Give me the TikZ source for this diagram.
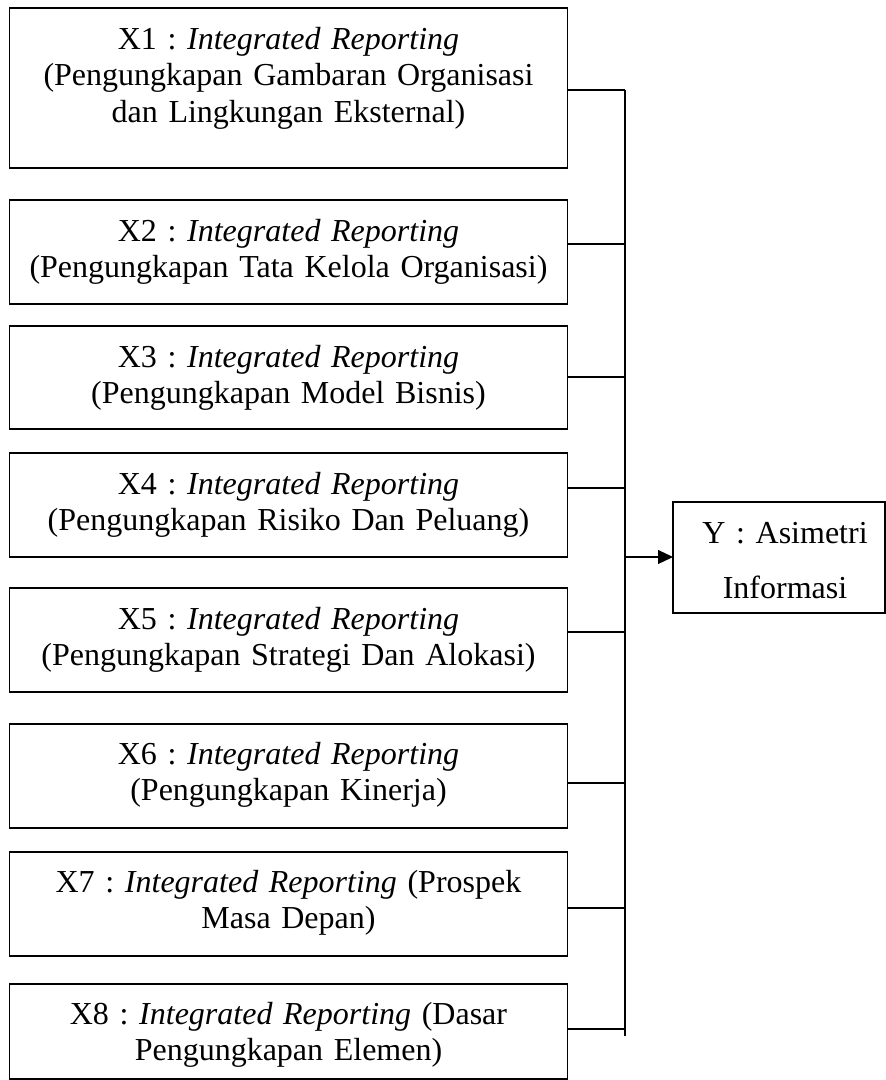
\documentclass[tikz,border=0pt]{standalone}
\usepackage{fontspec}
\setmainfont{Liberation Serif}
\usetikzlibrary{arrows.meta}
\frenchspacing
\begin{document}
\begin{tikzpicture}[x=1pt,y=-1pt,
  box/.style={draw=black, line width=1.2pt, inner sep=0pt, outer sep=0pt, anchor=north west, minimum width=558pt},
  lbl/.style={text width=550pt, align=center, inner sep=0pt, anchor=base, font=\frenchspacing\fontsize{32}{36.5}\selectfont},
  conn/.style={draw=black, line width=1.2pt}]
\useasboundingbox (0,0) rectangle (886,1080);

\node[box, minimum height=160pt] (x1) at (9.5,8) {};
\node[box, minimum height=104pt] (x2) at (9.5,200) {};
\node[box, minimum height=103pt] (x3) at (9.5,326) {};
\node[box, minimum height=104pt] (x4) at (9.5,453) {};
\node[box, minimum height=104pt] (x5) at (9.5,588) {};
\node[box, minimum height=104pt] (x6) at (9.5,724) {};
\node[box, minimum height=104pt] (x7) at (9.5,852) {};
\node[box, minimum height=95pt] (x8) at (9.5,984) {};
\node[box, minimum width=212pt, minimum height=111pt] (y) at (673,502) {};

\node[lbl] (x1t) at (288.5,49) {X1 : \textit{Integrated Reporting}\\(Pengungkapan Gambaran Organisasi\\dan Lingkungan Eksternal)};
\node[lbl] (x2t) at (288.5,241) {X2 : \textit{Integrated Reporting}\\(Pengungkapan Tata Kelola Organisasi)};
\node[lbl] (x3t) at (288.5,367) {X3 : \textit{Integrated Reporting}\\(Pengungkapan Model Bisnis)};
\node[lbl] (x4t) at (288.5,494) {X4 : \textit{Integrated Reporting}\\(Pengungkapan Risiko Dan Peluang)};
\node[lbl] (x5t) at (288.5,629) {X5 : \textit{Integrated Reporting}\\(Pengungkapan Strategi Dan Alokasi)};
\node[lbl] (x6t) at (288.5,764) {X6 : \textit{Integrated Reporting}\\(Pengungkapan Kinerja)};
\node[lbl] (x7t) at (288.5,892) {X7 : \textit{Integrated Reporting} (Prospek\\Masa Depan)};
\node[lbl] (x8t) at (288.5,1024) {X8 : \textit{Integrated Reporting} (Dasar\\Pengungkapan Elemen)};
\node[lbl, text width=200pt, font=\frenchspacing\fontsize{32}{55}\selectfont] (yt) at (785,543) {Y : Asimetri\\Informasi};

\coordinate (c1) at (625,90);
\coordinate (c2) at (625,244);
\coordinate (c3) at (625,377);
\coordinate (c4) at (625,488);
\coordinate (c5) at (625,632);
\coordinate (c6) at (625,783);
\coordinate (c7) at (625,908);
\coordinate (c8) at (625,1029);
\coordinate (bot) at (625,1036);
\coordinate (a) at (625,557);

\draw[conn] (c1) -- (bot);
\draw[conn] (x1.east |- c1) -- (c1);
\draw[conn] (x2.east |- c2) -- (c2);
\draw[conn] (x3.east |- c3) -- (c3);
\draw[conn] (x4.east |- c4) -- (c4);
\draw[conn] (x5.east |- c5) -- (c5);
\draw[conn] (x6.east |- c6) -- (c6);
\draw[conn] (x7.east |- c7) -- (c7);
\draw[conn] (x8.east |- c8) -- (c8);
\draw[conn, -{Triangle[length=15pt,width=14pt]}] (a) -- (y.west |- a);
\end{tikzpicture}
\end{document}
